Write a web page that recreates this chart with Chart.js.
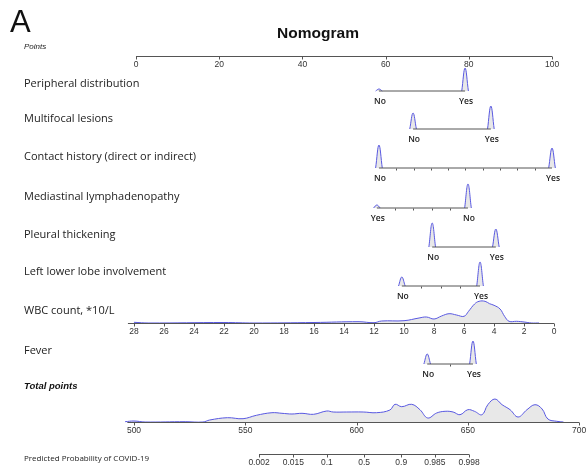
<!DOCTYPE html>
<html>
<head>
<meta charset="utf-8">
<script src="https://cdn.jsdelivr.net/npm/chart.js@4.4.0/dist/chart.umd.min.js"></script>
<style>
  html, body { margin: 0; padding: 0; background: #fff; }
  #wrap { position: relative; width: 587px; height: 472px; }
</style>
</head>
<body>
<div id="wrap"><canvas id="nomo"></canvas></div>
<script>
// --- data ---
const rowNames = ['Peripheral distribution', 'Multifocal lesions', 'Contact history (direct or indirect)',
    'Mediastinal lymphadenopathy', 'Pleural thickening', 'Left lower lobe involvement', 'Fever'];
const rowLevels = [['No', 'Yes'], ['No', 'Yes'], ['No', 'Yes'], ['Yes', 'No'], ['No', 'Yes'], ['No', 'Yes'], ['No', 'Yes']];
const levelPoints = [[58.4, 79.1], [66.6, 85.3], [58.4, 100], [57.9, 79.8], [71.2, 86.5], [63.9, 82.7], [70, 81]];
const levelDensity = [[2, 23], [16, 23], [23, 20], [3, 24], [24, 18], [9, 24], [10, 23]];

const pointTicks = [0, 20, 40, 60, 80, 100];

const wbcTicks = [28, 26, 24, 22, 20, 18, 16, 14, 12, 10, 8, 6, 4, 2, 0];
const wbcValues = [28, 27, 22, 20, 16, 13, 12, 11.5, 10, 9, 8.5, 8, 7.5, 7, 6.5, 6, 5.7, 5.3, 5, 4.6, 4.3, 4, 3.6, 3.3, 3, 2.5, 2, 1.5, 1];
const wbcDensity = [0.7, 0, 0.5, 0, 0.5, 1.3, 0.3, 2, 2.3, 5, 6, 4, 7, 9.3, 8, 6.7, 11.7, 19, 21.7, 21.7, 19.3, 17.7, 14, 6.7, 1.7, 1.7, 1, 0, 0];

const totalTicks = [500, 550, 600, 650, 700];
const totalValues = [496, 500, 505, 523, 531, 534, 542, 549, 555, 562, 566.5, 571, 575.5, 580.7, 586.6, 589.5, 595.6, 603,
    609, 615, 617.3, 620.3, 624.8, 628.5, 632, 636, 639.8, 643.4, 646.5, 650, 653, 656.4, 659, 662.2, 665.4, 669, 672.6,
    676.6, 680.2, 683.4, 686, 690, 693];
const totalDensity = [0.3, 1, 0, 0.3, 0, 2, 4.3, 3.3, 6.7, 9.3, 8.7, 8, 8.7, 7.7, 11, 10, 10, 10, 9.3, 12, 17.7, 15.3, 17.7,
    12.3, 4, 9, 10.7, 10, 7.3, 12.3, 10.7, 7.3, 17.3, 23, 17.3, 12.3, 5, 12.3, 17.3, 13, 3, 0.7, 0];

const probTicks = [0.002, 0.015, 0.1, 0.5, 0.9, 0.985, 0.998];

// model scale conversions
const wbcToPoints = w => 100.5 - 3.607 * w;
const totalToPoints = t => (t - 500) * 0.5349 - 0.48;
const probToTotal = p => 603.4 + 7.6 * Math.log(p / (1 - p));

// --- layout ---
const rowLabelY = [84, 119, 157, 197, 235, 272, 351];
const rowLineY = [91, 129, 168, 208, 247, 286, 364];
const rowTickDiv = [0, 0, 10, 5, 0, 4, 2];
const wbcLabelY = 311, wbcAxisY = 323;
const pointsAxisY = 56, totalAxisY = 422, probAxisY = 454;
const blue = 'rgb(88,88,225)';
const shade = '#e8e8e8';
const axisGrey = '#555';

const datasets = [];
rowNames.forEach((name, i) => {
    const y = rowLineY[i];
    const pts = levelPoints[i];
    datasets.push({
        data: [{x: Math.min(...pts), y: y}, {x: Math.max(...pts), y: y}],
        borderColor: axisGrey, borderWidth: 1, pointRadius: 0, fill: false, order: 0
    });
    pts.forEach((p, j) => {
        const h = levelDensity[i][j];
        datasets.push({
            data: [{x: p - 0.8, y: y}, {x: p, y: y - h}, {x: p + 0.8, y: y}],
            borderColor: blue, borderWidth: 1, pointRadius: 0, tension: 0.4,
            fill: {value: y}, backgroundColor: shade, order: 1
        });
    });
});
datasets.push({
    data: wbcValues.map((w, k) => ({x: wbcToPoints(w), y: wbcAxisY - wbcDensity[k]})),
    borderColor: blue, borderWidth: 1, pointRadius: 0, tension: 0.4,
    fill: {value: wbcAxisY}, backgroundColor: shade, order: 1
});
datasets.push({
    data: totalValues.map((t, k) => ({x: totalToPoints(t), y: totalAxisY - totalDensity[k]})),
    borderColor: blue, borderWidth: 1, pointRadius: 0, tension: 0.4,
    fill: {value: totalAxisY}, backgroundColor: shade, order: 1
});

// axes and text
const nomoText = {
    id: 'nomoText',
    afterDatasetsDraw(chart) {
        const ctx = chart.ctx;
        const X = v => chart.scales.x.getPixelForValue(v);
        const Y = v => chart.scales.y.getPixelForValue(v);
        ctx.save();

        // draws one axis line with ticks below it and labels
        function axis(vals, labels, yv, x0, x1) {
            const y = Math.round(Y(yv)) + 0.5;
            ctx.strokeStyle = axisGrey;
            ctx.lineWidth = 1;
            ctx.beginPath();
            ctx.moveTo(x0, y);
            ctx.lineTo(x1, y);
            vals.forEach(v => {
                const x = Math.round(X(v)) + 0.5;
                ctx.moveTo(x, y);
                ctx.lineTo(x, y + 3);
            });
            ctx.stroke();
            ctx.fillStyle = '#333';
            ctx.font = '8.5px "Liberation Sans", Arial, sans-serif';
            ctx.textAlign = 'center';
            ctx.textBaseline = 'top';
            vals.forEach((v, k) => ctx.fillText(labels[k], X(v), y + 4));
        }

        ctx.fillStyle = '#111';
        ctx.textBaseline = 'alphabetic';
        ctx.textAlign = 'left';
        ctx.font = '31px "Liberation Sans", Arial, sans-serif';
        ctx.fillText('A', 10, 32);
        ctx.textAlign = 'center';
        ctx.font = 'bold 15.5px "Liberation Sans", Arial, sans-serif';
        ctx.fillText('Nomogram', 318, 38);

        ctx.textAlign = 'left';
        ctx.textBaseline = 'middle';
        ctx.font = 'italic 8px "Liberation Sans", Arial, sans-serif';
        ctx.fillStyle = '#222';
        ctx.fillText('Points', 24, 47);
        axis(pointTicks, pointTicks.map(String), pointsAxisY, X(0), X(100));

        // categorical rows
        rowNames.forEach((name, i) => {
            ctx.textAlign = 'left';
            ctx.textBaseline = 'middle';
            ctx.fillStyle = '#222';
            ctx.font = '11px "Open Sans", sans-serif';
            ctx.fillText(name, 24, Y(rowLabelY[i]));
            const pts = levelPoints[i];
            const a = Math.min(...pts), b = Math.max(...pts);
            const y = Math.round(Y(rowLineY[i])) + 0.5;
            const n = rowTickDiv[i];
            ctx.strokeStyle = axisGrey;
            ctx.beginPath();
            for (let k = 1; k < n; k++) {
                const x = Math.round(X(a + (b - a) * k / n)) + 0.5;
                ctx.moveTo(x, y);
                ctx.lineTo(x, y + 2);
            }
            ctx.stroke();
            ctx.textAlign = 'center';
            ctx.textBaseline = 'top';
            ctx.font = '600 8.5px "Open Sans", sans-serif';
            ctx.fillStyle = '#222';
            pts.forEach((p, j) => ctx.fillText(rowLevels[i][j], X(p) + 1, y + 6));
        });

        // WBC
        ctx.textAlign = 'left';
        ctx.textBaseline = 'middle';
        ctx.font = '11px "Open Sans", sans-serif';
        ctx.fillText('WBC count, *10/L', 24, Y(wbcLabelY));
        axis(wbcTicks.map(wbcToPoints), wbcTicks.map(String), wbcAxisY, X(wbcToPoints(28.4)), X(wbcToPoints(0)));

        // Total points
        ctx.textAlign = 'left';
        ctx.textBaseline = 'middle';
        ctx.fillStyle = '#111';
        ctx.font = 'bold italic 9.5px "Liberation Sans", Arial, sans-serif';
        ctx.fillText('Total points', 24, Y(386));
        axis(totalTicks.map(totalToPoints), totalTicks.map(String), totalAxisY, X(totalToPoints(497)), X(totalToPoints(700)));

        // Probability
        ctx.textAlign = 'left';
        ctx.textBaseline = 'middle';
        ctx.fillStyle = '#222';
        ctx.font = '8px "Open Sans", sans-serif';
        ctx.fillText('Predicted Probability of COVID-19', 24, Y(459));
        const probPts = probTicks.map(p => totalToPoints(probToTotal(p)));
        axis(probPts, probTicks.map(String), probAxisY, X(probPts[0]), X(probPts[probPts.length - 1]));

        ctx.restore();
    }
};

new Chart(document.getElementById('nomo'), {
    type: 'line',
    data: {datasets: datasets},
    options: {
        responsive: true,
        maintainAspectRatio: false,
        animation: false,
        layout: {padding: 0},
        plugins: {legend: {display: false}, tooltip: {enabled: false}},
        scales: {
            x: {type: 'linear', min: -32.69, max: 108.41, display: false},
            y: {type: 'linear', min: 0, max: 472, reverse: true, display: false}
        }
    },
    plugins: [nomoText]
});
</script>
</body>
</html>
